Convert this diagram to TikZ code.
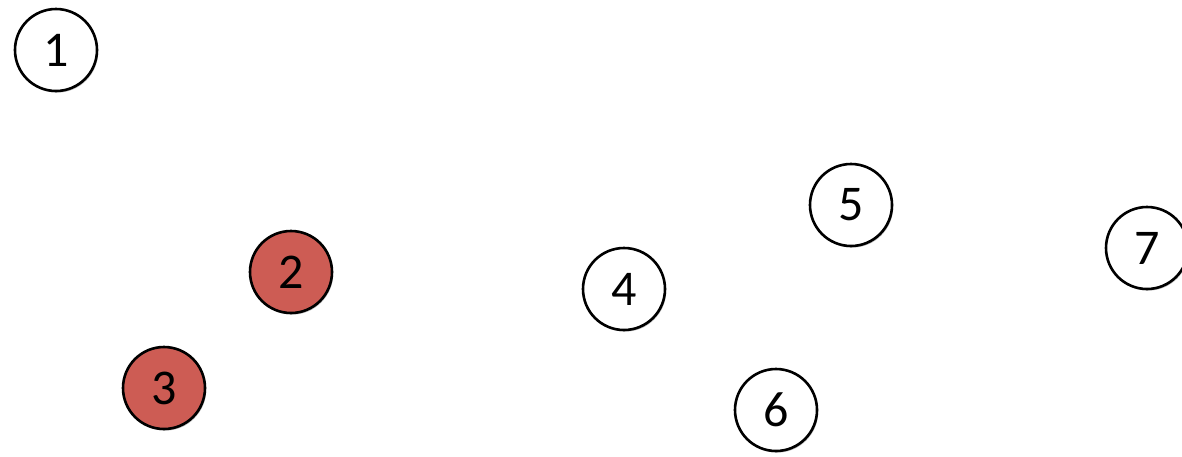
\documentclass[tikz,border=0pt]{standalone}
\usepackage{fontspec}
\setmainfont{Carlito}
\usetikzlibrary{shadows}
\definecolor{redfill}{RGB}{205,92,84}
\begin{document}
\begin{tikzpicture}[x=0.5pt,y=-0.5pt,
  nd/.style={circle,draw=black,line width=1.3pt,minimum size=41pt,inner sep=0pt,fill=white,
    font=\fontsize{25}{30}\selectfont,
    drop shadow={shadow xshift=0.6pt,shadow yshift=-0.8pt,opacity=0.25,fill=black}},
  hl/.style={nd,fill=redfill}]
\useasboundingbox (0,0) rectangle (1182,456);
\clip (0,0) rectangle (1182,456);
\node[nd] (n1) at (56,50) {1};
\node[hl] (n2) at (291,272) {2};
\node[hl] (n3) at (164,388) {3};
\node[nd] (n4) at (624,289) {4};
\node[nd] (n5) at (851,205) {5};
\node[nd] (n6) at (776,410) {6};
\node[nd] (n7) at (1147,248) {7};
\end{tikzpicture}
\end{document}
